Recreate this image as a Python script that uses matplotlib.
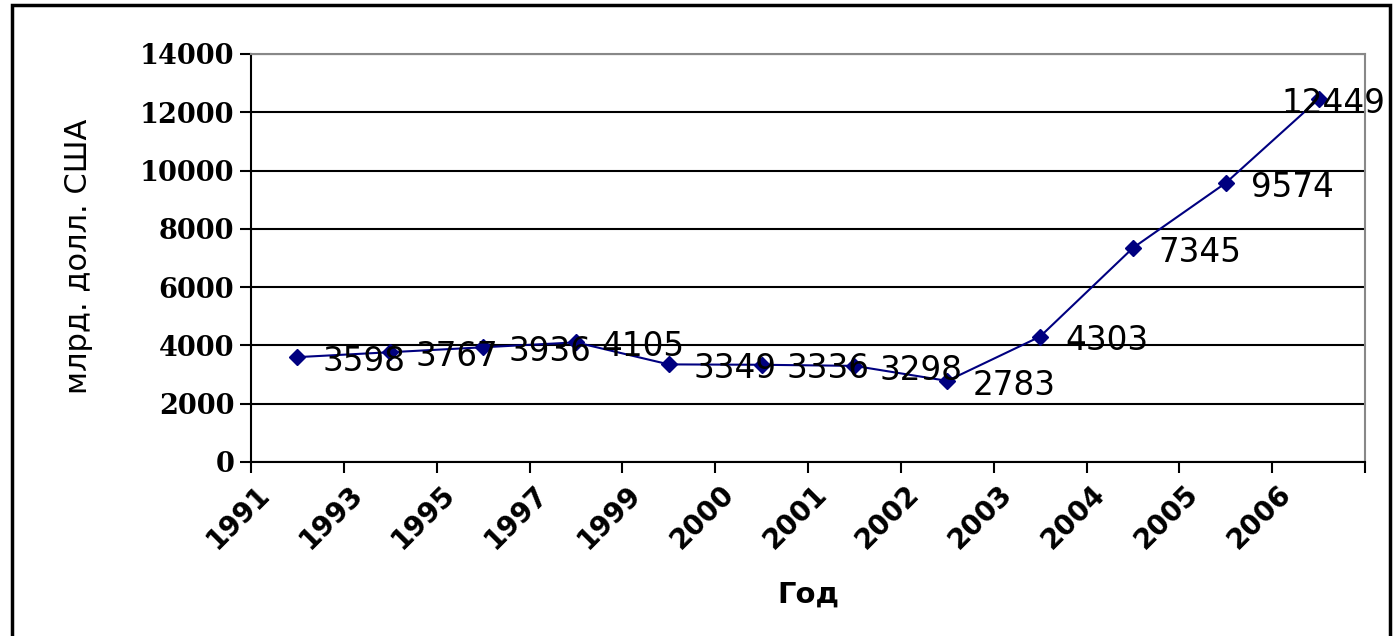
import matplotlib
matplotlib.use("Agg")
import matplotlib.pyplot as plt
from matplotlib.patches import Rectangle
from matplotlib.transforms import ScaledTranslation

# data
years = ['1991', '1993', '1995', '1997', '1999', '2000',
         '2001', '2002', '2003', '2004', '2005', '2006']
values = [3598, 3767, 3936, 4105, 3349, 3336, 3298, 2783, 4303, 7345, 9574, 12449]
yticks = [0, 2000, 4000, 6000, 8000, 10000, 12000, 14000]

fig = plt.figure(figsize=(13.93, 6.36), dpi=100)
ax = fig.add_axes([0.1802, 0.2736, 0.7997, 0.6415])

# outer chart border (bottom edge falls outside the picture)
fig.add_artist(Rectangle((12 / 1393, -0.05), 1378 / 1393, 1.05 - 5 / 636,
                         transform=fig.transFigure, fill=False,
                         edgecolor='black', linewidth=2.5))

x = list(range(len(years)))
ax.plot(x, values, color='#000080', linewidth=1.5, marker='D',
        markersize=8, markerfacecolor='#000080', markeredgecolor='#000080',
        zorder=3)

# data labels to the right of each point
for i, v in enumerate(values):
    dx = 25 if i < len(values) - 1 else -37
    ax.annotate(str(v), (i, v), xytext=(dx * 0.72, -3), textcoords='offset points',
                ha='left', va='center', fontsize=23.5, family='DejaVu Sans',
                color='black', zorder=4, annotation_clip=False)

ax.set_xlim(-0.5, len(years) - 0.5)
ax.set_ylim(0, 14000)

ax.set_yticks(yticks)
ax.set_yticklabels([str(t) for t in yticks], family='DejaVu Serif',
                   fontweight='bold', fontsize=19.5)
ax.tick_params(axis='y', direction='out', length=8, width=1.5, pad=4)
ax.yaxis.grid(True, color='black', linewidth=1.5)
ax.set_axisbelow(True)

# category labels centered, tick marks between categories
ax.set_xticks(x)
ax.set_xticklabels(years, rotation=45, ha='right', va='center',
                   rotation_mode='anchor', fontsize=20, fontweight='bold',
                   family='DejaVu Sans')
ax.tick_params(axis='x', which='major', length=0, pad=20)
ax.set_xticks([i - 0.5 for i in range(len(years) + 1)], minor=True)
ax.tick_params(axis='x', which='minor', direction='out', length=8, width=1.5)
for lab in ax.get_xticklabels():
    lab.set_transform(lab.get_transform() + ScaledTranslation(-0.32, 0, fig.dpi_scale_trans))

for side in ['left', 'bottom']:
    ax.spines[side].set_color('black')
    ax.spines[side].set_linewidth(1.5)
for side in ['top', 'right']:
    ax.spines[side].set_color('#888888')
    ax.spines[side].set_linewidth(1.5)

ax.set_xlabel('Год', fontsize=21, fontweight='bold', family='DejaVu Sans')
ax.set_ylabel('млрд. долл. США', fontsize=22,
              family=['Liberation Sans Narrow', 'DejaVu Sans'])
ax.xaxis.set_label_coords(0.5, -0.29)
ax.yaxis.set_label_coords(-0.142, 0.505)

fig.savefig('out.png', dpi=100)
